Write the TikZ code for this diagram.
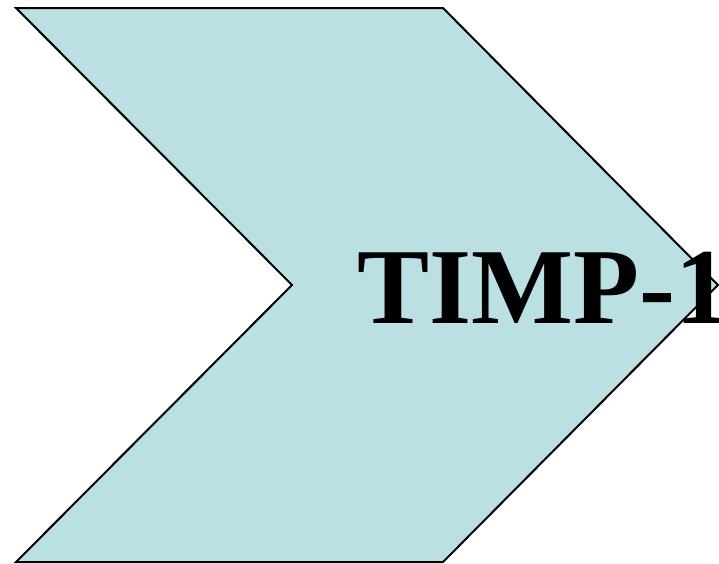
\documentclass[tikz,border=0pt]{standalone}
\usepackage{fontspec}
\setmainfont{Liberation Serif}
\definecolor{chev}{HTML}{BBE0E3}
\begin{document}
\begin{tikzpicture}[x=1pt,y=-1pt,
  chevshape/.style={fill=chev,draw=black,line width=2pt,line join=miter},
  label/.style={font=\fontsize{108}{108}\selectfont\bfseries,inner sep=0pt,anchor=base west}]
\useasboundingbox (0,0) rectangle (719,563);
\clip (0,0) rectangle (719,563);
\draw[chevshape] (16,8) -- (443,8) -- (718,285) -- (443,562) -- (16,562) -- (292,285) -- cycle;
\node[label] (t) at (357,323) {TIMP-1};
\end{tikzpicture}
\end{document}
